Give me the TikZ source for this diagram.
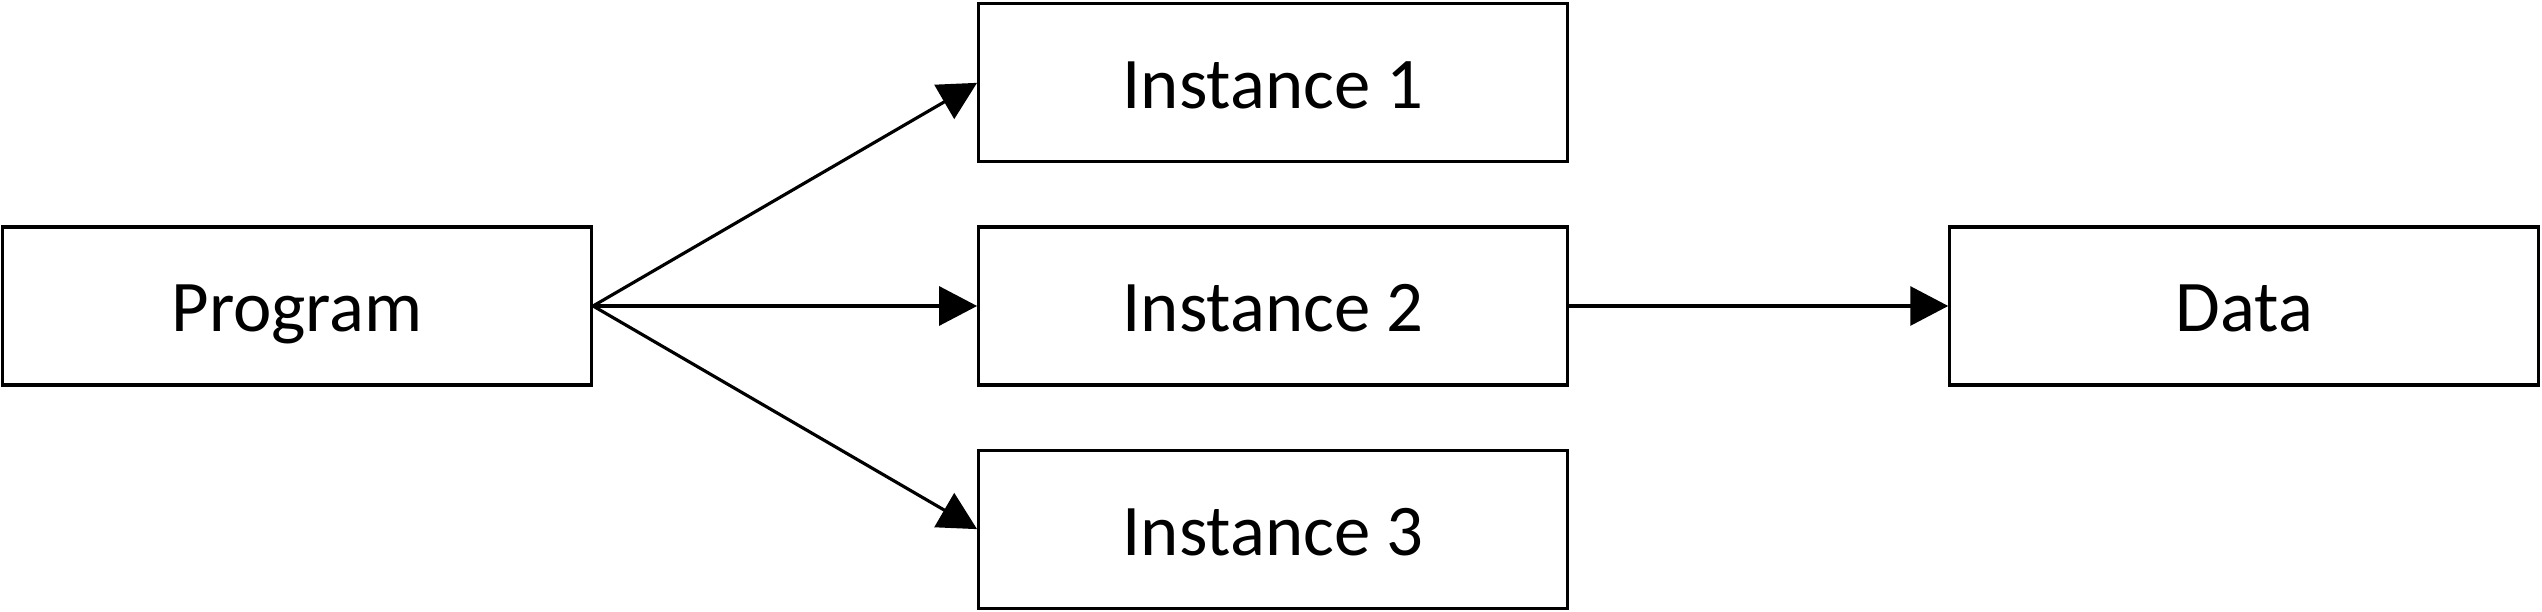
\documentclass[tikz,border=0pt]{standalone}
\usepackage{fontspec}
\setmainfont{Carlito}
\usetikzlibrary{positioning,arrows.meta}

\begin{document}
\begin{tikzpicture}
      [>={Triangle[length=0.38cm,width=0.39cm]},
        element/.style={
          rectangle,
          draw=black, line width=0.9pt,
          minimum width=5.89cm,
          minimum height=1.58cm,
          text height=0.6cm, text depth=0.08cm,
          font=\fontsize{20.7}{25}\selectfont,
          text centered},
        line/.style={draw, line width=0.9pt, ->},
        node distance=.62cm and 3.84cm]
      \useasboundingbox (0,0) rectangle (25.42,6.12);
      \node[element] (program) at (2.97,3.06) {Program};
      \node[element, right=of program] (instance2) {Instance 2};
      \node[element, above=of instance2] (instance1) {Instance 1};
      \node[element, below=of instance2] (instance3) {Instance 3};
      \node[element, right=3.79cm of instance2] (data) {Data};
      \path[line] (program.east) -- (instance1.west);
      \path[line] (program.east) -- (instance2.west);
      \path[line] (program.east) -- (instance3.west);
      \path[line] (instance2.east) -- (data.west);
    \end{tikzpicture}
\end{document}
